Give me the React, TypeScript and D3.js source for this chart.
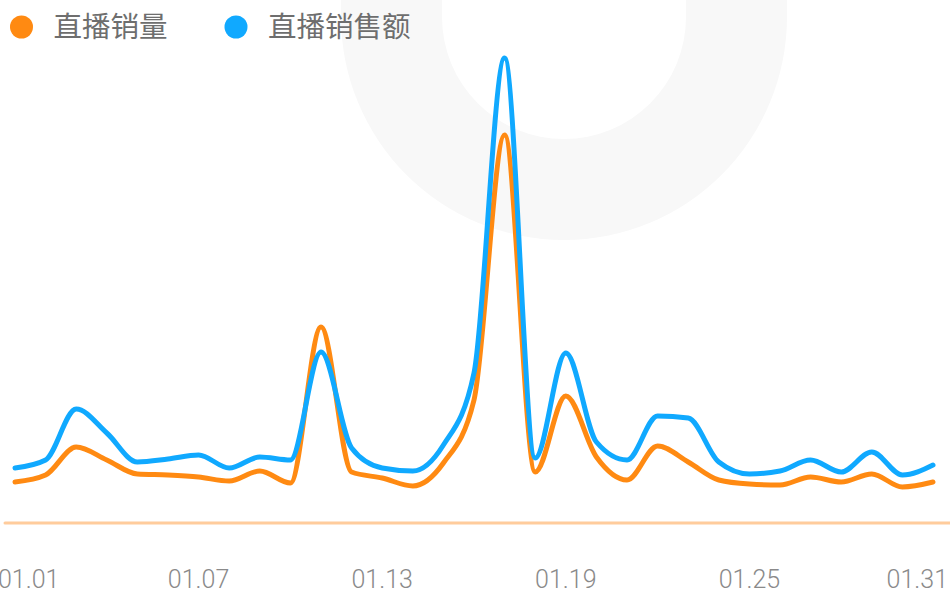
import React from "react";
import * as d3 from "d3";

const days = d3.range(1, 32).map((d) => `01.${String(d).padStart(2, "0")}`);
const tickLabels = ["01.01", "01.07", "01.13", "01.19", "01.25", "01.31"];
// 直播销量
const salesVolume = [41, 48, 76, 63, 49, 48, 46, 42, 52, 40, 196, 51, 45, 37, 60, 123, 388, 51, 127, 66, 43, 77, 61, 43, 39, 38, 46, 41, 49, 36, 41];
// 直播销售额
const salesAmount = [55, 63, 114, 90, 61, 64, 68, 55, 66, 63, 171, 75, 55, 52, 78, 150, 465, 65, 170, 81, 63, 107, 105, 61, 49, 52, 63, 51, 71, 48, 58];
const seriesNames = ["直播销量", "直播销售额"];
const seriesColors = ["#ff8a12", "#10a9ff"];

const W = 950;
const H = 593;

export default function App() {
  const x = d3.scalePoint<string>().domain(days).range([15, 933]);
  const y = d3.scaleLinear().domain([0, 500]).range([523, 23]);
  const line = d3
    .line<number>()
    .x((_, i) => x(days[i]) as number)
    .y((v) => y(v))
    .curve(d3.curveMonotoneX);

  const arc = d3
    .arc()
    .innerRadius(122)
    .outerRadius(223)
    .startAngle(Math.PI / 2)
    .endAngle((Math.PI * 3) / 2);

  const series = [salesVolume, salesAmount];

  return (
    <svg
      width={W}
      height={H}
      style={{ position: "absolute", left: 0, top: 0, background: "#fff" }}
    >
      {/* watermark */}
      <g fill="#f8f8f8">
        <path d={arc({} as any) as string} transform="translate(564,17)" />
        <rect x={564 - 223} y={-5} width={101} height={22} />
        <rect x={564 + 122} y={-5} width={101} height={22} />
      </g>

      {/* baseline */}
      <line x1={5} x2={950} y1={y(0)} y2={y(0)} stroke="#ffcc9c" strokeWidth={3} strokeLinecap="round" />

      {/* lines */}
      {series.map((s, i) => (
        <path
          key={i}
          d={line(s) as string}
          fill="none"
          stroke={seriesColors[i]}
          strokeWidth={5}
          strokeLinejoin="round"
          strokeLinecap="round"
        />
      ))}

      {/* x labels */}
      {tickLabels.map((t, i) => (
        <text
          key={t}
          x={i === 0 ? -2 : i === tickLabels.length - 1 ? 948 : (x(t) as number)}
          y={588}
          textAnchor={i === 0 ? "start" : i === tickLabels.length - 1 ? "end" : "middle"}
          fontFamily="Roboto, 'Noto Sans', sans-serif"
          fontWeight={300}
          fontSize={25}
          fill="#8a8a8a"
        >
          {t}
        </text>
      ))}

      {/* legend */}
      {seriesNames.map((n, i) => {
        const lx = i === 0 ? 21.5 : 236;
        return (
          <g key={n}>
            <circle cx={lx} cy={27} r={11.5} fill={seriesColors[i]} />
            <text
              x={lx + 32}
              y={37}
              fontFamily="'Noto Sans CJK SC', sans-serif"
              fontSize={28.5}
              fill="#6e6e6e"
            >
              {n}
            </text>
          </g>
        );
      })}
    </svg>
  );
}
